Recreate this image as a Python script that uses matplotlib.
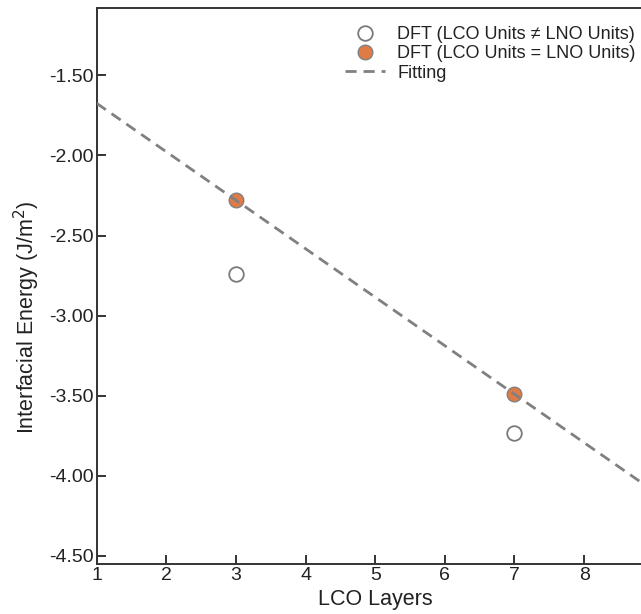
import numpy as np
import matplotlib
matplotlib.use("Agg")
import matplotlib.pyplot as plt
from matplotlib.ticker import FormatStrFormatter

plt.rcParams['font.family'] = ['Liberation Sans', 'DejaVu Sans']
plt.rcParams['axes.unicode_minus'] = False

layers = [3, 7]
energy_neq = [-2.74, -3.73]
energy_eq = [-2.28, -3.49]
xticks = [1, 2, 3, 4, 5, 6, 7, 8]
yticks = [-4.5, -4.0, -3.5, -3.0, -2.5, -2.0, -1.5]

fig = plt.figure(figsize=(6.41, 6.14), dpi=100)
ax = fig.add_axes([96.7/641, 50/614, 557/641, 556/614])

slope, intercept = np.polyfit(layers, energy_eq, 1)
xf = np.array([1, 9])

ax.plot(layers, energy_neq, 'o', ms=10.5, mfc='white', mec='#7a7a7a', mew=1.3,
        label='DFT (LCO Units \u2260 LNO Units)', zorder=3)
ax.plot(layers, energy_eq, 'o', ms=10.5, mfc='#E07B45', mec='#808080', mew=1.0,
        label='DFT (LCO Units = LNO Units)', zorder=3)
ax.plot(xf, slope*xf + intercept, '--', color='#808080', lw=2, dashes=(4, 2.5),
        label='Fitting', zorder=4)

ax.set_xlim(1, 9)
ax.set_ylim(-4.55, -1.08)
ax.set_xticks(xticks)
ax.set_yticks(yticks)
ax.yaxis.set_major_formatter(FormatStrFormatter('%.2f'))
ax.tick_params(direction='in', length=6.5, width=1.4, labelsize=14, colors='#333333', pad=2)
ax.tick_params(axis='both', labelcolor='#222222')
for s in ax.spines.values():
    s.set_color('#333333')
    s.set_linewidth(1.4)

ax.set_xlabel('LCO Layers', fontsize=15.5, color='#222222', labelpad=4)
ax.set_ylabel('Interfacial Energy (J/m$^2$)', fontsize=15.5, color='#222222')
ax.yaxis.set_label_coords(-0.099, 0.444)

fig.legend(loc='upper right', bbox_to_anchor=(652/641, 1 - 10/614), frameon=False,
           fontsize=13, handlelength=2.2, handletextpad=0.7, labelspacing=0.12,
           labelcolor='#222222')

fig.savefig('out.png', dpi=100)
